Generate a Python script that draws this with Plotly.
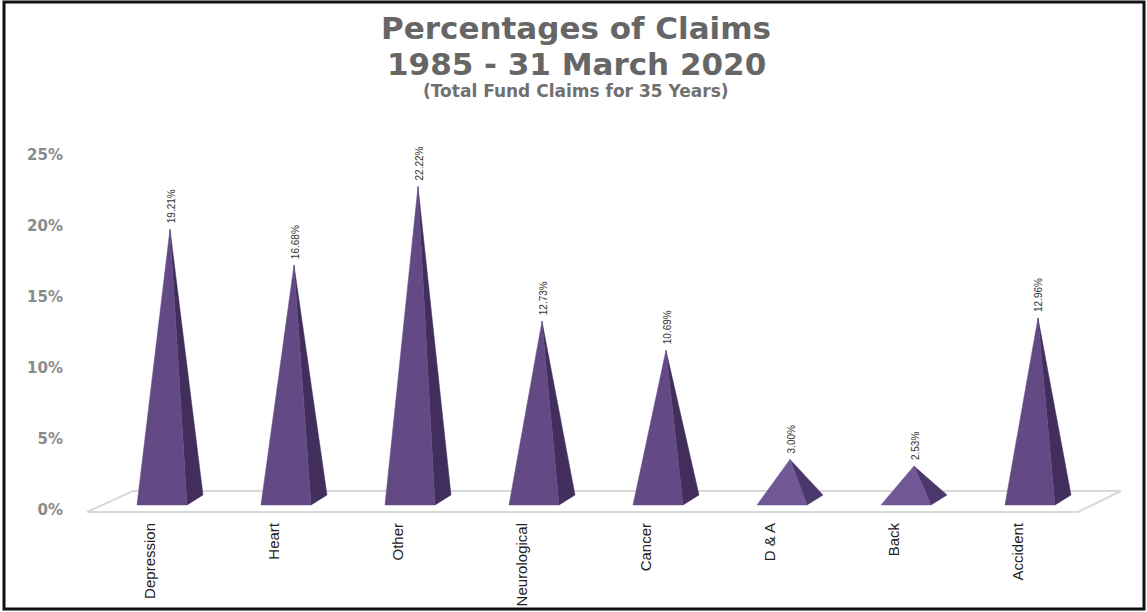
import plotly.graph_objects as go

categories = ["Depression", "Heart", "Other", "Neurological", "Cancer", "D & A", "Back", "Accident"]
values = [19.21, 16.68, 22.22, 12.73, 10.69, 3.00, 2.53, 12.96]
value_labels = ["19.21%", "16.68%", "22.22%", "12.73%", "10.69%", "3.00%", "2.53%", "12.96%"]
y_ticks = [0, 5, 10, 15, 20, 25]
y_tick_labels = ["0%", "5%", "10%", "15%", "20%", "25%"]

W, H = 1147, 612
ML, MR, MT, MB = 68, 4, 128, 98
PX_PER_CAT = 124.0
PX_PER_PCT = 14.2
X0_PX = 170.0   # pixel of category 0 apex
Y0_PX = 510.0   # pixel of 0% tick


def ux(px):
    return px / PX_PER_CAT


def uy(px):
    return px / PX_PER_PCT


x_range = [(ML - X0_PX) / PX_PER_CAT, (W - MR - X0_PX) / PX_PER_CAT]
y_range = [(Y0_PX - (H - MB)) / PX_PER_PCT, (Y0_PX - MT) / PX_PER_PCT]

FRONT = "#644a85"
SIDE = "#412e5d"
FRONT_SMALL = "#715796"
SIDE_SMALL = "#4b376b"

fig = go.Figure()

# floor
fl_y_front = uy(Y0_PX - 512)
fl_y_back = uy(Y0_PX - 491)
fig.add_trace(go.Scatter(
    x=[ux(87 - X0_PX), ux(133 - X0_PX), ux(1121 - X0_PX), ux(1078 - X0_PX), ux(87 - X0_PX)],
    y=[fl_y_front, fl_y_back, fl_y_back, fl_y_front, fl_y_front],
    mode="lines", line=dict(color="#d9d9d9", width=2), hoverinfo="skip", showlegend=False,
    cliponaxis=False,
))

base_front = uy(Y0_PX - 505)
base_back = uy(Y0_PX - 495)
apex_lift = uy(Y0_PX - 502)

for i, (c, v) in enumerate(zip(categories, values)):
    small = v < 5
    apex = v + apex_lift
    fig.add_trace(go.Scatter(
        x=[i + ux(17), i, i + ux(33), i + ux(17)],
        y=[base_front, apex, base_back, base_front],
        mode="lines", fill="toself", fillcolor=SIDE_SMALL if small else SIDE,
        line=dict(color=SIDE_SMALL if small else SIDE, width=0.5),
        hoverinfo="skip", showlegend=False,
    ))
    fig.add_trace(go.Scatter(
        x=[i - ux(33), i, i + ux(17), i - ux(33)],
        y=[base_front, apex, base_front, base_front],
        mode="lines", fill="toself", fillcolor=FRONT_SMALL if small else FRONT,
        line=dict(color=FRONT_SMALL if small else FRONT, width=0.5),
        name=c, showlegend=False,
    ))

annotations = [
    dict(text=lbl, x=i, y=v + apex_lift, xref="x", yref="y", showarrow=False,
         textangle=-90, yanchor="bottom", xanchor="center", yshift=4, xshift=1,
         font=dict(family="Liberation Sans Narrow, Liberation Sans", size=10, color="#333333"))
    for i, (lbl, v) in enumerate(zip(value_labels, values))
]
for text, y, size, color in [
    ("Percentages of Claims", 28, 31, "#666666"),
    ("1985 - 31 March 2020", 64, 31, "#666666"),
    ("(Total Fund Claims for 35 Years)", 91, 17, "#707070"),
]:
    annotations.append(dict(text=f"<b>{text}</b>", x=(576 - ML) / (W - ML - MR), y=1 + (MT - y) / (H - MT - MB),
                            xref="paper", yref="paper", showarrow=False,
                            xanchor="center", yanchor="middle",
                            font=dict(family="DejaVu Sans", size=size, color=color)))

fig.update_layout(
    width=W, height=H, margin=dict(l=ML, r=MR, t=MT, b=MB, pad=0),
    paper_bgcolor="white", plot_bgcolor="white", showlegend=False,
    annotations=annotations,
    xaxis=dict(range=x_range, tickmode="array", automargin=False,
               tickvals=[i - ux(20) for i in range(len(categories))],
               ticktext=categories, tickangle=-90, showgrid=False, zeroline=False,
               showline=False, ticks="", ticklabelstandoff=5,
               tickfont=dict(family="Liberation Sans Narrow, Liberation Sans", size=15, color="#222222")),
    yaxis=dict(range=y_range, tickmode="array", tickvals=y_ticks, ticktext=y_tick_labels,
               automargin=False,
               showgrid=False, zeroline=False, showline=False, ticks="", ticklabelstandoff=4,
               tickfont=dict(family="DejaVu Sans", size=15, color="#8a8a8a", weight="bold")),
    shapes=[dict(type="rect", xref="paper", yref="paper", layer="above",
                 x0=(4 - ML) / (W - ML - MR), x1=(1144 - ML) / (W - ML - MR),
                 y0=1 + (MT - 609) / (H - MT - MB), y1=1 + (MT - 2) / (H - MT - MB),
                 line=dict(color="#111111", width=3), fillcolor="rgba(0,0,0,0)")],
)

fig.write_html("out.html", config={"displayModeBar": False},
               post_script="document.body.style.margin='0';document.body.style.overflow='hidden';")
